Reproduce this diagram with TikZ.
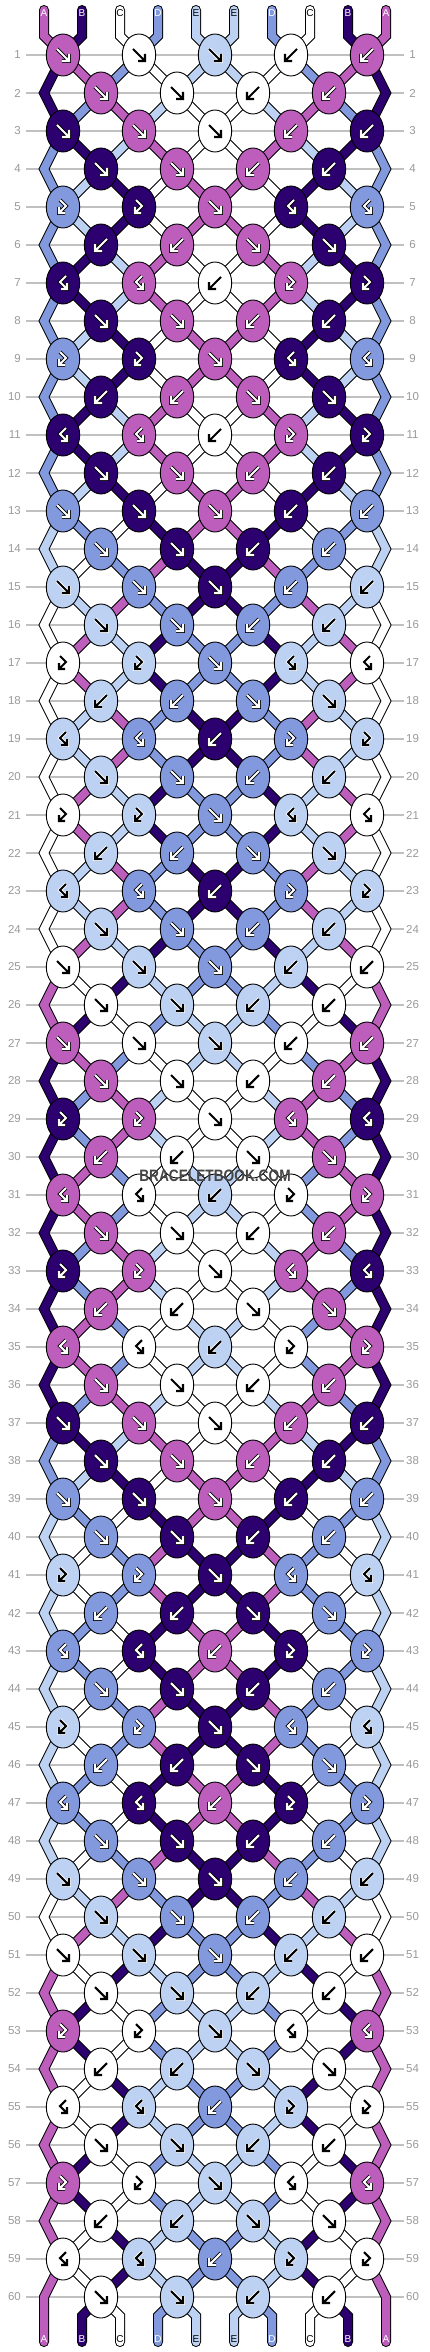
\documentclass[tikz,border=0pt]{standalone}
\usepackage{fontspec}
\setmainfont{Liberation Sans}
\usetikzlibrary{shapes.geometric}
\definecolor{cA}{HTML}{BD5EBD}
\definecolor{cB}{HTML}{2C006E}
\definecolor{cC}{HTML}{FFFFFF}
\definecolor{cD}{HTML}{8299DE}
\definecolor{cE}{HTML}{BDD2F2}
\definecolor{rowgray}{HTML}{C0C0C0}
\definecolor{numgray}{HTML}{9A9A9A}
\definecolor{wmgray}{HTML}{454545}
\tikzset{
  knot/.style={ellipse, draw=black, line width=0.9pt, minimum width=33.4pt, minimum height=42pt, inner sep=0pt},
  bandout/.style={draw=black, line width=10pt, line cap=round, line join=miter},
  bandfill/.style={line width=8pt, line cap=round, line join=miter},
  rowline/.style={draw=rowgray, line width=1.2pt},
  rownum/.style={text=numgray, font=\fontsize{11.5}{12}\selectfont, inner sep=0pt},
  strlbl/.style={font=\fontsize{10}{10}\selectfont, inner sep=0pt},
  glyph/.style={line cap=butt, line join=miter},
}
\newcommand\bbsetS[2]{\expandafter\xdef\csname bbS#1\endcsname{#2}}
\newcommand\bbsetT[2]{\expandafter\xdef\csname bbT#1\endcsname{#2}}
\def\PA{f,f,f,b,b}\def\PB{F,F,f,B,B}\def\PC{B,B,b,F,F}
\def\QA{f,f,b,b}\def\QB{b,b,f,f}
\def\bbFgA{white}\def\bbBgA{black}
\def\bbFgB{white}\def\bbBgB{black}
\def\bbFgC{black}\def\bbBgC{white}
\def\bbFgD{white}\def\bbBgD{black}
\def\bbFgE{black}\def\bbBgE{white}
\newcommand\bbInit{%
  \bbsetS{1}{A}\bbsetS{2}{B}\bbsetS{3}{C}\bbsetS{4}{D}\bbsetS{5}{E}%
  \bbsetS{6}{E}\bbsetS{7}{D}\bbsetS{8}{C}\bbsetS{9}{B}\bbsetS{10}{A}}
\def\bbGf#1{\draw[glyph,#1] (-6,-6) -- (6,6) (-1,6) -- (6,6) -- (6,-1);}
\def\bbGb#1{\draw[glyph,#1] (6,-6) -- (-6,6) (1,6) -- (-6,6) -- (-6,-1);}
\def\bbGF#1{\draw[glyph,#1] (-3,-7) -- (3,-1) -- (-4,6) (-4,0) -- (-4,6) -- (2,6);}
\def\bbGB#1{\draw[glyph,#1] (3,-7) -- (-3,-1) -- (4,6) (4,0) -- (4,6) -- (-2,6);}
\newcommand\bbseg[3]{%
  \ifx#1o\draw[bandout] #3;\else\edef\bbcol{c#2}\draw[bandfill, draw=\bbcol] #3;\fi}
\newcommand\bbBands[1]{%
  \edef\colL{\csname bbS\bP\endcsname}%
  \edef\colR{\csname bbS\bQ\endcsname}%
  \pgfmathtruncatemacro\rn{\bR+1}%
  \pgfmathtruncatemacro\rnn{\bR+2}%
  \pgfmathtruncatemacro\kl{\bK-1}%
  \pgfmathtruncatemacro\kr{\bK+1}%
  \ifnum\bR=60\relax
    \bbseg{#1}{\colL}{(n\bR-\bK) -- (b\bP) -- (e\bP)}%
    \bbseg{#1}{\colR}{(n\bR-\bK) -- (b\bQ) -- (e\bQ)}%
  \else
    \ifnum\bK=0\relax
      \ifnum\bR=59\relax
        \bbseg{#1}{\colL}{(n\bR-\bK) -- (L\rn) -- (e1)}%
      \else
        \bbseg{#1}{\colL}{(n\bR-\bK) -- (L\rn) -- (n\rnn-0)}%
      \fi
    \else
      \bbseg{#1}{\colL}{(n\bR-\bK) -- (n\rn-\kl)}%
    \fi
    \ifnum\bK=8\relax
      \ifnum\bR=59\relax
        \bbseg{#1}{\colR}{(n\bR-\bK) -- (R\rn) -- (e10)}%
      \else
        \bbseg{#1}{\colR}{(n\bR-\bK) -- (R\rn) -- (n\rnn-8)}%
      \fi
    \else
      \bbseg{#1}{\colR}{(n\bR-\bK) -- (n\rn-\kr)}%
    \fi
  \fi}
\newcommand\bbKnotDraw{%
  \edef\bbcol{c\KC}%
  \node[knot, fill=\bbcol] (K\bR-\bK) at (n\bR-\bK) {};
  \edef\arfg{\csname bbFg\KC\endcsname}%
  \edef\arbg{\csname bbBg\KC\endcsname}%
  \csname bbG\bT\endcsname{shift={(n\bR-\bK)}, draw=\arbg, line width=3.6pt}%
  \csname bbG\bT\endcsname{shift={(n\bR-\bK)}, draw=\arfg, line width=2.1pt}%
}
\newcommand\bbRun[1]{%
  \bbInit
  \foreach \bR in {1,...,60}{%
    \pgfmathtruncatemacro\bKs{mod(\bR+1,2)}%
    \edef\bbTL{\csname bbT\bR\endcsname}%
    \foreach \bT [count=\bJ from 0] in \bbTL {%
      \pgfmathtruncatemacro\bK{\bKs+2*\bJ}%
      \pgfmathtruncatemacro\bP{\bK+1}%
      \pgfmathtruncatemacro\bQ{\bK+2}%
      \edef\sL{\csname bbS\bP\endcsname}%
      \edef\sR{\csname bbS\bQ\endcsname}%
      \if\bT f\edef\KC{\sL}\bbsetS{\bP}{\sR}\bbsetS{\bQ}{\sL}\fi
      \if\bT b\edef\KC{\sR}\bbsetS{\bP}{\sR}\bbsetS{\bQ}{\sL}\fi
      \if\bT F\edef\KC{\sL}\fi
      \if\bT B\edef\KC{\sR}\fi
      \ifx#1k\bbKnotDraw\else\bbBands{#1}\fi
    }%
  }}
\foreach \rw in {1,...,60}{%
  \pgfmathtruncatemacro\mm{mod(\rw-1,12)}%
  \bbsetT{\rw}{\ifcase\mm \PA\or\QA\or\PA\or\QA\or\PB\or\QB\or\PC\or\QA\or\PB\or\QB\or\PC\or\QA\fi}}
\begin{document}
\begin{tikzpicture}[x=1pt,y=-1pt]
\useasboundingbox (0,0) rectangle (430,2352);
\fill[white] (0,0) rectangle (430,2352);
% named positions
\foreach \rw in {1,...,60}{%
  \foreach \kk in {0,...,8}{\coordinate (n\rw-\kk) at ({63+38*\kk},{55+38*(\rw-1)});}
  \coordinate (L\rw) at (44,{55+38*(\rw-1)});
  \coordinate (R\rw) at (386,{55+38*(\rw-1)});
}
\foreach \pp in {1,...,10}{%
  \coordinate (t\pp) at ({44+38*(\pp-1)},10);
  \coordinate (u\pp) at ({44+38*(\pp-1)},36);
  \coordinate (b\pp) at ({44+38*(\pp-1)},2316);
  \coordinate (e\pp) at ({44+38*(\pp-1)},2342);
}
% row lines and numbers
\foreach \rw in {1,...,60}{%
  \draw[rowline] (26,{55+38*(\rw-1)}) -- (404,{55+38*(\rw-1)});
  \node[rownum, anchor=east] (ln\rw) at (21,{55+38*(\rw-1)}) {\rw};
  \node[rownum] (rn\rw) at (412.5,{55+38*(\rw-1)}) {\rw};
}
% string outlines
\foreach \pp/\lab/\kk in {1/A/0,2/B/0,3/C/2,4/D/2,5/E/4,6/E/4,7/D/6,8/C/6,9/B/8,10/A/8}{%
  \bbseg{o}{\lab}{(t\pp) -- (u\pp) -- (n1-\kk)}}
\bbRun{o}
% string fills
\foreach \pp/\lab/\kk in {1/A/0,2/B/0,3/C/2,4/D/2,5/E/4,6/E/4,7/D/6,8/C/6,9/B/8,10/A/8}{%
  \bbseg{f}{\lab}{(t\pp) -- (u\pp) -- (n1-\kk)}}
\bbRun{f}
% knots
\bbRun{k}
% string labels
\foreach \pp/\lab/\tc in {1/A/white,2/B/white,3/C/black,4/D/white,5/E/black,6/E/black,7/D/white,8/C/black,9/B/white,10/A/white}{%
  \node[strlbl, text=\tc] (tl\pp) at ({44+38*(\pp-1)},13) {\lab};
  \node[strlbl, text=\tc] (bl\pp) at ({44+38*(\pp-1)},2339) {\lab};
}
\node[text=wmgray, font=\bfseries\fontsize{16.5}{17}\selectfont, inner sep=0pt, xscale=0.83] (wm) at (215,1176) {BRACELETBOOK.COM};
\end{tikzpicture}
\end{document}
